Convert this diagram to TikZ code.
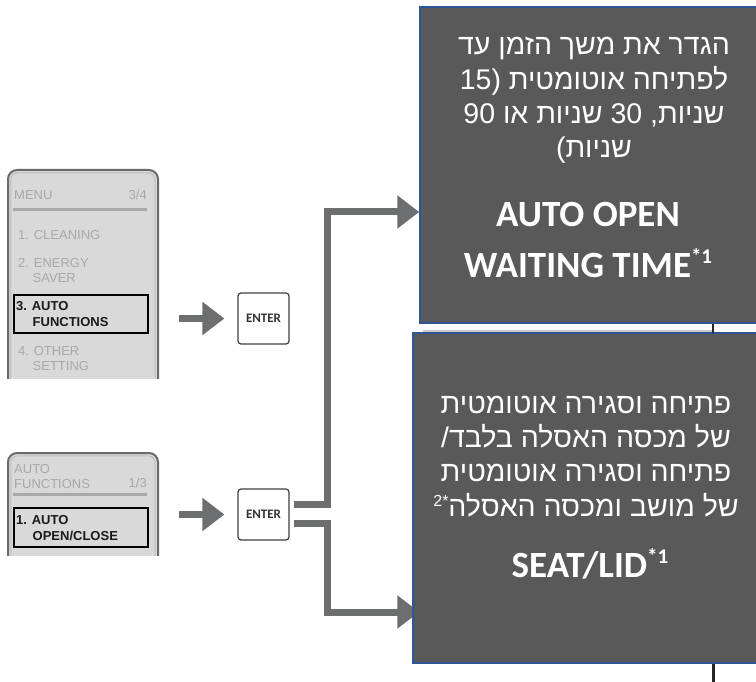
\documentclass[tikz,border=0pt]{standalone}
\usepackage{fontspec}
\usetikzlibrary{arrows.meta,calc}
\TeXXeTstate=1
\newfontfamily\hebfont[Script=Hebrew]{Liberation Sans}
\newfontfamily\arialfont{Liberation Sans}
\newfontfamily\calfont{Carlito}
\definecolor{boxgray}{HTML}{595959}
\definecolor{boxblue}{HTML}{2F5597}
\definecolor{conngray}{HTML}{6D6E70}
\definecolor{scrbg}{HTML}{D9D9D9}
\definecolor{scrtext}{HTML}{A8A8A8}
\definecolor{scredge}{HTML}{6A6A6A}
\definecolor{scrinner}{HTML}{BDBDBD}
\pgfdeclarelayer{bg}
\pgfsetlayers{bg,main}
\begin{document}
\begin{tikzpicture}[x=1pt,y=-1pt,
  conn/.style={draw=conngray, line width=7pt, line join=miter, -{Triangle[length=22pt,width=32pt]}},
  enterbox/.style={draw=black!75, fill=white, line width=1.2pt, rounded corners=3pt, minimum width=51pt, minimum height=51pt, inner sep=0pt, font=\calfont\bfseries\fontsize{13}{13}\selectfont, text=black!80},
  bigbox/.style={draw=boxblue, fill=boxgray, line width=1.5pt, inner sep=0pt},
  hebline/.style={text=white, font=\hebfont\fontsize{28.5}{34}\selectfont, anchor=base, inner sep=0pt},
  engline/.style={text=white, font=\calfont\bfseries\fontsize{37}{40}\selectfont, anchor=base, inner sep=0pt},
  mtext/.style={font=\arialfont\fontsize{13}{15}\selectfont, text=scrtext, anchor=base west, inner sep=0pt},
  msel/.style={mtext, text=black!90, font=\arialfont\bfseries\fontsize{13}{15}\selectfont},
]
\useasboundingbox (0,0) rectangle (756,682);
\clip (0,0) rectangle (756,682);

% ---------- screen 1 ----------
\begin{scope}
  \clip (0,0) rectangle (200,378);
  \fill[scrbg, rounded corners=9pt] (8,170) rectangle (158,400);
  \draw[scrinner, line width=1pt, rounded corners=7pt] (10.8,172.8) rectangle (155.2,400);
  \draw[scredge, line width=2pt, rounded corners=9pt] (8,170) rectangle (158,400);
\end{scope}
\node[mtext] (m1t) at (14,200) {MENU};
\node[mtext, anchor=base east] (m1n) at (147,200) {3/4};
\draw[scrtext, line width=3pt] (13,210) -- (147,210);
\node[mtext] (m1a) at (18,240) {1. CLEANING};
\node[mtext] (m1b) at (18,268) {2. ENERGY};
\node[mtext] (m1b2) at (32.5,283) {SAVER};
\draw[black, line width=2.5pt] (14,295) rectangle (148,333);
\node[msel] (m1c) at (16,310) {3. AUTO};
\node[msel] (m1c2) at (32.5,326) {FUNCTIONS};
\node[mtext] (m1d) at (18,355) {4. OTHER};
\node[mtext] (m1d2) at (32.5,370) {SETTING};

% ---------- screen 2 ----------
\begin{scope}
  \clip (0,400) rectangle (200,555);
  \fill[scrbg, rounded corners=9pt] (8,453) rectangle (158,600);
  \draw[scrinner, line width=1pt, rounded corners=7pt] (10.8,455.8) rectangle (155.2,600);
  \draw[scredge, line width=2pt, rounded corners=9pt] (8,453) rectangle (158,600);
\end{scope}
\node[mtext] (m2t) at (14,473) {AUTO};
\node[mtext] (m2t2) at (14,488) {FUNCTIONS};
\node[mtext, anchor=base east] (m2n) at (147,487) {1/3};
\draw[scrtext, line width=3pt] (13,494.5) -- (147,494.5);
\draw[black, line width=2.5pt] (14,508) rectangle (148,547);
\node[msel] (m2a) at (16,524) {1. AUTO};
\node[msel] (m2a2) at (32.5,540) {OPEN/CLOSE};

% ---------- ENTER keys ----------
\node[enterbox] (ent1) at (263.5,318.5) {ENTER};
\node[enterbox] (ent2) at (263.5,514.5) {ENTER};

% ---------- result boxes ----------
\node[bigbox, minimum width=342pt, minimum height=316pt] (box1) at (591,165) {};
\node[bigbox, minimum width=349pt, minimum height=330pt] (box2) at (587.5,498) {};

\draw[black!20, line width=2pt] (423,331) -- (712,331);
\draw[black!85, line width=1.5pt] (713,324) -- (713,333);
\draw[black!85, line width=3pt] (713,663.5) -- (713,682);

% ---------- connectors ----------
\coordinate (a1s) at (179,318.5);
\coordinate (a2s) at (179,514.5);
\coordinate (u0) at ($(ent2.east)+(4,-10)$);
\coordinate (l0) at ($(ent2.east)+(4,8.5)$);
\coordinate (y212) at (0,212);
\coordinate (y612) at (0,612);
\coordinate (b1in) at (box1.west |- y212);
\coordinate (b2in) at ($(box2.west |- y612)+(7,0)$);
\begin{pgfonlayer}{bg}
\draw[conn] (a1s) -- ($(ent1.west)+(-13,0)$);
\draw[conn] (a2s) -- ($(ent2.west)+(-13,0)$);
\draw[conn] (u0) -| (327,212) -- (b1in);
\draw[conn] (l0) -| (327,612) -- (b2in);
\end{pgfonlayer}

% ---------- box 1 text ----------
\node[hebline] (t1a) at (594,55) {\beginR הגדר את משך הזמן עד\endR};
\node[hebline] (t1b) at (594,90) {\beginR לפתיחה אוטומטית \hbox{\arialfont 15)}\endR};
\node[hebline] (t1c) at (594,124) {\beginR שניות\hbox{\arialfont,} 30 שניות או 90\endR};
\node[hebline] (t1d) at (594,158) {\beginR שניות\hbox{\arialfont(}\endR};
\node[engline] (t1e) at (588,227) {AUTO OPEN};
\node[engline] (t1f) at (588,277) {WAITING TIME\raisebox{14pt}{\fontsize{21}{21}\selectfont *1}};

% ---------- box 2 text ----------
\node[hebline] (t2a) at (586,413) {\beginR פתיחה וסגירה אוטומטית\endR};
\node[hebline] (t2b) at (586,447) {\beginR של מכסה האסלה בלבד\hbox{\arialfont/}\endR};
\node[hebline] (t2c) at (586,481) {\beginR פתיחה וסגירה אוטומטית\endR};
\node[hebline] (t2d) at (586,516) {\beginR של מושב ומכסה האסלה\raisebox{10pt}{\arialfont\fontsize{16}{16}\selectfont 2*}\endR};
\node[engline] (t2e) at (590,577) {SEAT/LID\raisebox{14pt}{\fontsize{21}{21}\selectfont *1}};
\end{tikzpicture}
\end{document}
